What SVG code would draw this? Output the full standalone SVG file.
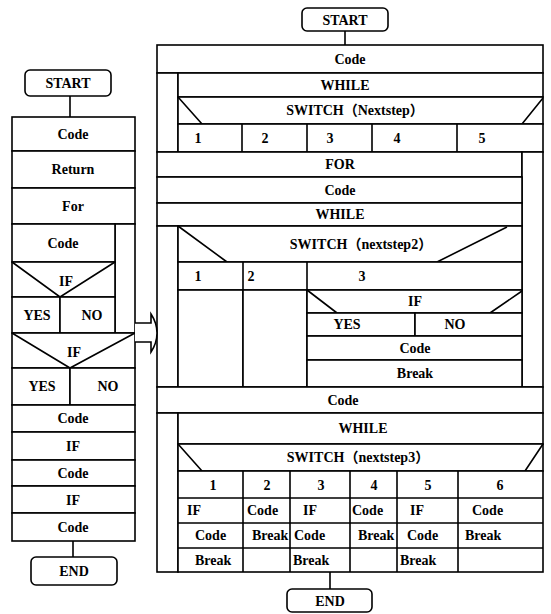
<svg xmlns="http://www.w3.org/2000/svg" width="551" height="614" viewBox="0 0 551 614">
<style>
.b{fill:#fff;stroke:#000;stroke-width:1.6}
.l{fill:none;stroke:#000;stroke-width:1.6}
text{font-family:"Liberation Serif","Times New Roman","Noto Sans CJK SC",serif;font-size:14px;font-weight:bold;fill:#000}
.m{text-anchor:middle}
</style>
<rect width="551" height="614" fill="#fff"/>

<!-- Left diagram -->
<g id="L-start"><rect class="b" x="25" y="70" width="86" height="26" rx="5"/><text class="m" x="68" y="88">START</text></g>
<g id="L-code1"><rect class="b" x="12" y="117" width="123" height="34"/><text class="m" x="73" y="139">Code</text></g>
<g id="L-return"><rect class="b" x="12" y="151" width="123" height="37"/><text class="m" x="73" y="174">Return</text></g>
<g id="L-for"><rect class="b" x="12" y="188" width="123" height="36"/><text class="m" x="73" y="211">For</text><rect class="b" x="115" y="224" width="20" height="109"/></g>
<g id="L-code2"><rect class="b" x="12" y="224" width="103" height="38"/><text class="m" x="63" y="248">Code</text></g>
<g id="L-if1"><rect class="b" x="12" y="262" width="103" height="35"/><path class="l" d="M12,262 L60,297 L115,262"/><text class="m" x="66" y="286">IF</text></g>
<g id="L-yes1"><rect class="b" x="12" y="297" width="48" height="36"/><text class="m" x="37" y="320">YES</text></g>
<g id="L-no1"><rect class="b" x="60" y="297" width="55" height="36"/><text class="m" x="92" y="320">NO</text></g>
<g id="L-if2"><rect class="b" x="12" y="333" width="123" height="35"/><path class="l" d="M12,333 L70,368 L135,333"/><text class="m" x="74" y="357">IF</text></g>
<g id="L-yes2"><rect class="b" x="12" y="368" width="58" height="37"/><text class="m" x="42" y="391">YES</text></g>
<g id="L-no2"><rect class="b" x="70" y="368" width="65" height="37"/><text class="m" x="108" y="391">NO</text></g>
<g id="L-code3"><rect class="b" x="12" y="405" width="123" height="27"/><text class="m" x="73" y="423">Code</text></g>
<g id="L-if3"><rect class="b" x="12" y="432" width="123" height="28"/><text class="m" x="73" y="451">IF</text></g>
<g id="L-code4"><rect class="b" x="12" y="460" width="123" height="26"/><text class="m" x="73" y="478">Code</text></g>
<g id="L-if4"><rect class="b" x="12" y="486" width="123" height="27"/><text class="m" x="73" y="505">IF</text></g>
<g id="L-code5"><rect class="b" x="12" y="513" width="123" height="28"/><text class="m" x="73" y="532">Code</text></g>
<g id="L-end"><rect class="b" x="31" y="557" width="86" height="28" rx="5"/><text class="m" x="74" y="576">END</text></g>

<!-- Right diagram -->
<g id="R-start"><rect class="b" x="302" y="8" width="86" height="23" rx="5"/><text class="m" x="345" y="25">START</text></g>
<g id="R-code1"><rect class="b" x="157" y="45" width="386" height="28"/><text class="m" x="350" y="64">Code</text></g>
<g id="R-while1"><rect class="b" x="157" y="73" width="21" height="79"/><rect class="b" x="178" y="73" width="365" height="24"/><text class="m" x="345" y="90">WHILE</text></g>
<g id="R-switch1"><rect class="b" x="178" y="97" width="365" height="27"/><path class="l" d="M178,97 L202,124 M543,98 L522,124"/><text class="m" x="355" y="115">SWITCH（Nextstep）</text></g>
<g id="R-cases1"><rect class="b" x="178" y="124" width="365" height="28"/><path class="l" d="M242,124 V152 M307,124 V152 M372,124 V152 M457,124 V152"/>
<text class="m" x="198" y="143">1</text><text class="m" x="265" y="143">2</text><text class="m" x="330" y="143">3</text><text class="m" x="397" y="143">4</text><text class="m" x="482" y="143">5</text></g>
<g id="R-for"><rect class="b" x="157" y="152" width="365" height="25"/><text class="m" x="340" y="169">FOR</text><rect class="b" x="522" y="152" width="21" height="235"/></g>
<g id="R-code2"><rect class="b" x="157" y="177" width="365" height="26"/><text class="m" x="340" y="195">Code</text></g>
<g id="R-while2"><rect class="b" x="157" y="203" width="365" height="23"/><text class="m" x="340" y="219">WHILE</text><rect class="b" x="157" y="226" width="21" height="161"/></g>
<g id="R-switch2"><rect class="b" x="178" y="226" width="344" height="36"/><path class="l" d="M178,226 L227,262 M507,227 L437,262"/><text class="m" x="361" y="249">SWITCH（nextstep2）</text></g>
<g id="R-cases2"><rect class="b" x="178" y="262" width="344" height="28"/><path class="l" d="M243,262 V290 M307,262 V290"/>
<text class="m" x="198" y="281">1</text><text class="m" x="251" y="281">2</text><text class="m" x="362" y="281">3</text></g>
<g id="R-col1"><rect class="b" x="178" y="290" width="65" height="97"/></g>
<g id="R-col2"><rect class="b" x="243" y="290" width="64" height="97"/></g>
<g id="R-if"><rect class="b" x="307" y="290" width="215" height="23"/><path class="l" d="M307,290 L337,313 M522,291 L490,313"/><text class="m" x="415" y="306">IF</text></g>
<g id="R-yes"><rect class="b" x="307" y="313" width="108" height="23"/><text class="m" x="347" y="329">YES</text></g>
<g id="R-no"><rect class="b" x="415" y="313" width="107" height="23"/><text class="m" x="455" y="329">NO</text></g>
<g id="R-code-c3"><rect class="b" x="307" y="336" width="215" height="24"/><text class="m" x="415" y="353">Code</text></g>
<g id="R-break-c3"><rect class="b" x="307" y="360" width="215" height="27"/><text class="m" x="415" y="378">Break</text></g>
<g id="R-code3"><rect class="b" x="157" y="387" width="386" height="26"/><text class="m" x="343" y="405">Code</text></g>
<g id="R-while3"><rect class="b" x="157" y="413" width="21" height="159"/><rect class="b" x="178" y="413" width="365" height="31"/><text class="m" x="363" y="433">WHILE</text></g>
<g id="R-switch3"><rect class="b" x="178" y="444" width="365" height="27"/><path class="l" d="M178,444 L202,471 M543,444 L525,471"/><text class="m" x="358" y="462">SWITCH（nextstep3）</text></g>
<g id="R-cases3"><rect class="b" x="178" y="471" width="365" height="101"/>
<path class="l" d="M178,498 H543 M178,523 H543 M178,548 H543 M243,471 V572 M290,471 V572 M350,471 V572 M397,471 V572 M458,471 V572"/>
<text class="m" x="213" y="490">1</text><text class="m" x="267" y="490">2</text><text class="m" x="321" y="490">3</text><text class="m" x="374" y="490">4</text><text class="m" x="428" y="490">5</text><text class="m" x="500" y="490">6</text>
<text x="187" y="515">IF</text><text x="247" y="515">Code</text><text x="303" y="515">IF</text><text x="352" y="515">Code</text><text x="410" y="515">IF</text><text x="472" y="515">Code</text>
<text x="195" y="540">Code</text><text x="252" y="540">Break</text><text x="294" y="540">Code</text><text x="358" y="540">Break</text><text x="407" y="540">Code</text><text x="465" y="540">Break</text>
<text x="195" y="565">Break</text><text x="293" y="565">Break</text><text x="400" y="565">Break</text></g>
<g id="R-end"><rect class="b" x="287" y="589" width="85" height="23" rx="5"/><text class="m" x="330" y="606">END</text></g>

<!-- Connectors -->
<g id="connectors">
<path class="l" d="M70,96 V117 M73,541 V557 M345,31 V45 M330,572 V589"/>
<path class="b" d="M135,323 H151 V314 Q157,323 157,333 Q157,343 151,352 V342 H135"/>
</g>
</svg>
